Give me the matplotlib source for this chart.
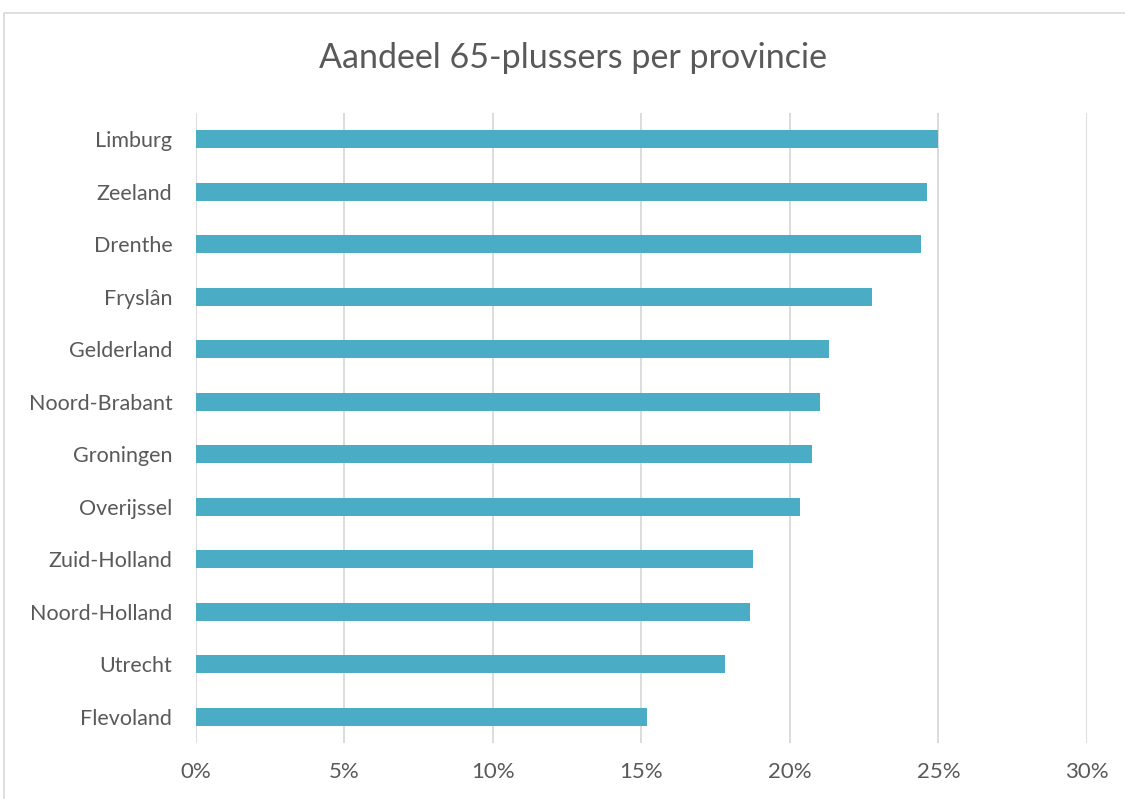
import matplotlib.pyplot as plt
from matplotlib.patches import Rectangle
from matplotlib.ticker import PercentFormatter

# share of inhabitants aged 65+ per province (%)
provincies = ["Limburg", "Zeeland", "Drenthe", "Fryslân", "Gelderland", "Noord-Brabant",
              "Groningen", "Overijssel", "Zuid-Holland", "Noord-Holland", "Utrecht", "Flevoland"]
aandeel = [25.0, 24.6, 24.4, 22.75, 21.3, 21.0, 20.75, 20.35, 18.75, 18.65, 17.8, 15.2]

plt.rcParams["font.family"] = ["Lato", "DejaVu Sans"]
text_color = "#595959"

fig = plt.figure(figsize=(11.25, 7.99), dpi=100)
ax = fig.add_axes([0.1742, 0.0701, 0.792, 0.7885])

# outer chart frame
fig.patches.append(Rectangle((0.0036, -0.05), 1.2, 1.034, transform=fig.transFigure,
                             fill=False, edgecolor="#D9D9D9", linewidth=1.2))

ypos = range(len(provincies))
ax.barh(ypos, aandeel, height=0.35, color="#4BACC6", zorder=3)
ax.set_ylim(len(provincies) - 0.5, -0.5)
ax.set_yticks(list(ypos))
ax.set_yticklabels(provincies)

ax.set_xlim(0, 30)
ax.set_xticks(range(0, 31, 5))
ax.xaxis.set_major_formatter(PercentFormatter(decimals=0))
ax.grid(True, axis="x", color="#D9D9D9", linewidth=1.3, zorder=0)

for side in ["top", "right", "bottom", "left"]:
    ax.spines[side].set_visible(False)
ax.tick_params(axis="both", length=0, labelsize=16, colors=text_color)
ax.tick_params(axis="y", pad=17, labelsize=15.5)
ax.tick_params(axis="x", pad=14)

fig.text(0.509, 0.927, "Aandeel 65-plussers per provincie", ha="center", va="center",
         fontsize=24.5, color=text_color)

fig.savefig("out.png", dpi=100)
